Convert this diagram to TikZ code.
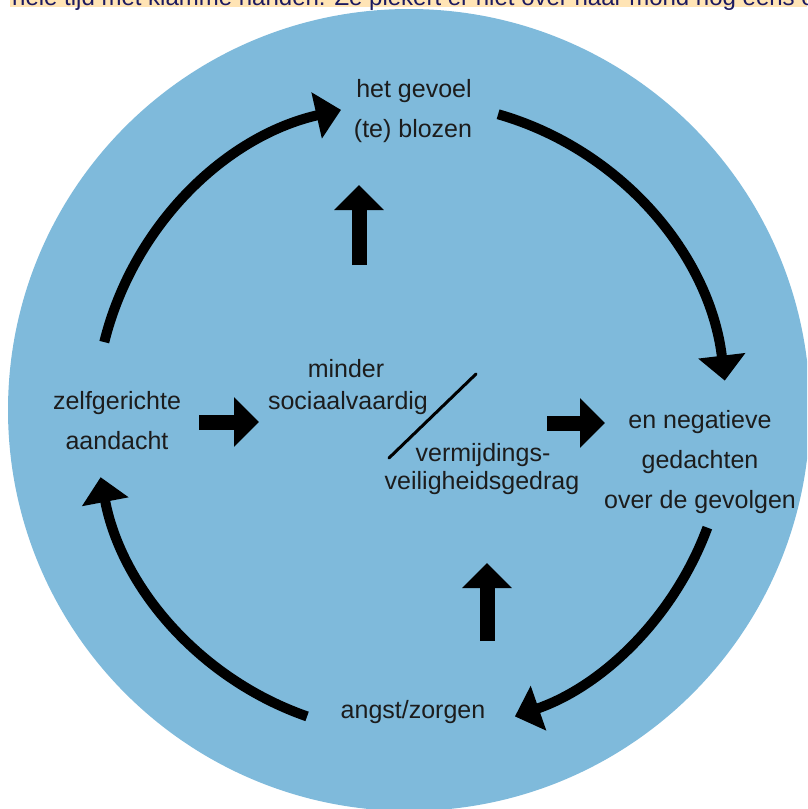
\documentclass[tikz,border=0pt]{standalone}
\usepackage{fontspec}
\setmainfont{Liberation Sans}
\usetikzlibrary{arrows.meta}
\definecolor{disc}{RGB}{127,186,219}
\definecolor{strip}{RGB}{255,228,181}
\definecolor{navy}{RGB}{28,26,96}
\definecolor{ink}{RGB}{28,28,28}
\begin{document}
\begin{tikzpicture}[x=1pt,y=1pt,
  lbl/.style={anchor=base, inner sep=0pt, text=ink, font=\fontsize{25}{30}\selectfont},
  cyc/.style={line width=10pt, black, -{Triangle[length=25pt,width=46pt]}},
  blk/.style={line width=15pt, black, -{Triangle[length=25pt,width=48pt]}},
  slash/.style={line width=3pt, black, line cap=round}
]
\useasboundingbox (0,0) rectangle (807,-809);
\clip (0,0) rectangle (807,-809);
% top strip with cut-off text
\fill[strip] (10,0) rectangle (807,-7);
\node[anchor=base west, inner sep=0pt, text=navy, font=\fontsize{24}{28}\selectfont] (toptext) at (12,-5) {hele tijd met klamme handen. Ze piekert er niet over haar mond nog eens o};
% disc
\coordinate (dc) at (409,-410);
\fill[disc] (dc) circle[radius=401];
% labels
\node[lbl] (g1) at (414,-97) {het gevoel};
\node[lbl] (g2) at (413,-137) {(te) blozen};
\node[lbl] (z1) at (117,-409) {zelfgerichte};
\node[lbl] (z2) at (117,-449) {aandacht};
\node[lbl] (m1) at (346,-377) {minder};
\node[lbl] (m2) at (348,-409) {sociaalvaardig};
\node[lbl] (v1) at (483,-461) {vermijdings-};
\node[lbl] (v2) at (482,-489) {veiligheidsgedrag};
\node[lbl] (n1) at (700,-428) {en negatieve};
\node[lbl] (n2) at (700,-468) {gedachten};
\node[lbl] (n3) at (700,-508) {over de gevolgen};
\node[lbl] (a1) at (413,-718) {angst/zorgen};
% slash between the two middle statements
\coordinate (s1) at (389,-458);
\coordinate (s2) at (476,-374);
\draw[slash] (s1) -- (s2);
% block arrows
\coordinate (u1s) at (359,-265); \coordinate (u1e) at (359,-185);
\coordinate (u2s) at (487,-641); \coordinate (u2e) at (487,-563);
\coordinate (r1s) at (199,-422); \coordinate (r1e) at (259,-422);
\coordinate (r2s) at (547,-423); \coordinate (r2e) at (605,-423);
\draw[blk] (u1s) -- (u1e);
\draw[blk] (u2s) -- (u2e);
\draw[blk] (r1s) -- (r1e);
\draw[blk] (r2s) -- (r2e);
% cycle arrows
\coordinate (c) at (411,-418);
\draw[cyc] ([shift={(166.1:316)}]c) arc[start angle=166.1, end angle=102.8, radius=316];
\draw[cyc] ([shift={(74.0:316)}]c) arc[start angle=74.0, end angle=6.8, radius=316];
\draw[cyc] ([shift={(-20.3:316)}]c) arc[start angle=-20.3, end angle=-70.8, radius=316];
\draw[cyc] ([shift={(250.8:316)}]c) arc[start angle=250.8, end angle=190.8, radius=316];
\end{tikzpicture}
\end{document}
